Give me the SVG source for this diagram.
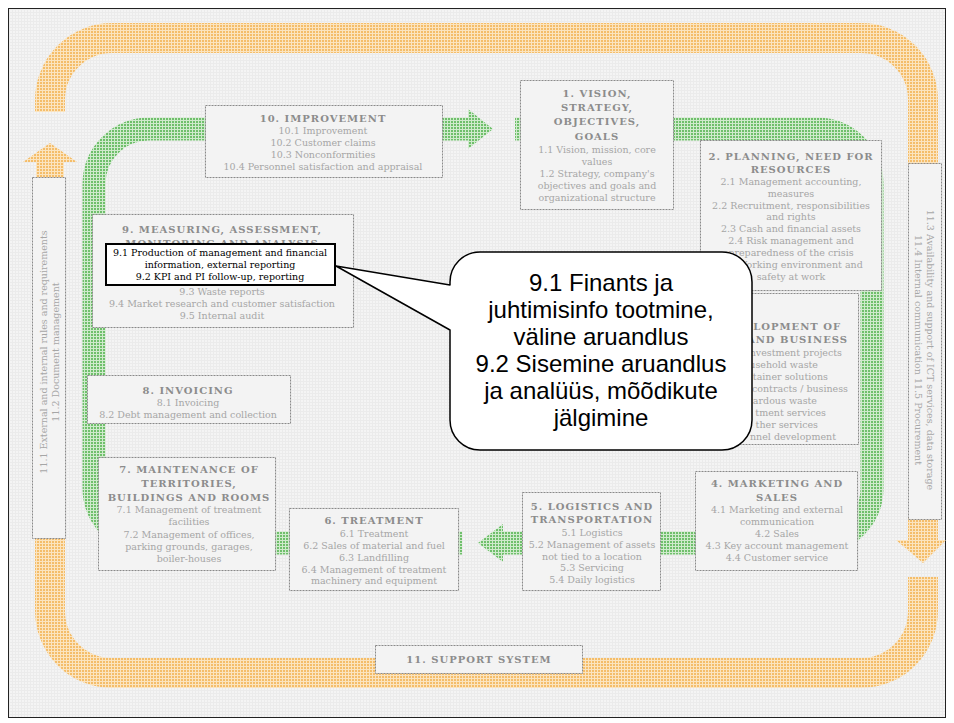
<svg xmlns="http://www.w3.org/2000/svg" width="954" height="723" viewBox="0 0 954 723">
<defs>
<pattern id="bgp" width="3" height="3" patternUnits="userSpaceOnUse"><rect width="3" height="3" fill="#f4f4f4"/><rect width="3" height="1" fill="#ebebeb"/><rect width="1" height="3" fill="#ebebeb"/></pattern>
<pattern id="orp" width="3" height="3" patternUnits="userSpaceOnUse"><rect width="3" height="3" fill="#fbe4bf"/><rect x="1" y="1" width="2" height="2" fill="#f4bd6a"/></pattern>
<pattern id="grp" width="3" height="3" patternUnits="userSpaceOnUse"><rect width="3" height="3" fill="#cfeacc"/><rect x="1" y="1" width="2" height="2" fill="#6fbf6b"/></pattern>
<style>
.box{fill:#f3f3f3;stroke:#8a8a8a;stroke-width:1;stroke-dasharray:2 1}
.t{font-family:"DejaVu Serif","Liberation Serif",serif;font-size:10px;font-weight:bold;fill:#8c8c8c;text-anchor:middle;letter-spacing:1px}
.i{font-family:"DejaVu Serif","Liberation Serif",serif;font-size:9.5px;fill:#a6a6a6;text-anchor:middle}
.h{font-family:"DejaVu Serif","Liberation Serif",serif;font-size:9.5px;fill:#000;text-anchor:middle}
.c{font-family:"Liberation Sans",Arial,sans-serif;font-size:24px;fill:#000;text-anchor:middle}
.ob{fill:none;stroke:url(#orp);stroke-width:30}
.gb{fill:none;stroke:url(#grp);stroke-width:23}
</style>
</defs>
<rect width="954" height="723" fill="#fff"/>
<rect x="8.5" y="8.5" width="937" height="709" fill="url(#bgp)" stroke="#222" stroke-width="1"/>

<g id="connectors">
  <path class="ob" d="M50,112 L50,100 A62,62 0 0 1 112,38 L861,38 A62,62 0 0 1 923,100 L923,165"/>
  <path class="ob" d="M923,577 L923,611 A62,62 0 0 1 861,673 L112,673 A62,62 0 0 1 50,611 L50,536"/>
  <polygon fill="url(#orp)" points="36,180 36,162 23,162 50,143 77,162 64,162 64,180"/>
  <polygon fill="url(#orp)" points="908,518 938,518 938,540 946,540 923,563 896,540 908,540"/>
  <path class="gb" d="M515,129 L817,129 A55,55 0 0 1 872,184 L872,488 A55,55 0 0 1 817,543 L501,543"/>
  <polygon fill="url(#grp)" points="503,524 478,543 503,562"/>
  <path class="gb" d="M462,543 L149,543 A55,55 0 0 1 94,488 L94,184 A55,55 0 0 1 149,129 L469,129"/>
  <polygon fill="url(#grp)" points="468,109 493,129 468,149"/>
</g>

<g id="n10">
  <rect class="box" x="205.5" y="105.5" width="237" height="72"/>
  <text class="t" x="323" y="122">10. IMPROVEMENT</text>
  <text class="i" x="323" y="134">10.1 Improvement</text>
  <text class="i" x="323" y="146">10.2 Customer claims</text>
  <text class="i" x="323" y="158">10.3 Nonconformities</text>
  <text class="i" x="323" y="170">10.4 Personnel satisfaction and appraisal</text>
</g>

<g id="n1">
  <rect class="box" x="520.5" y="80.5" width="153" height="129"/>
  <text class="t" x="597" y="97">1. VISION,</text>
  <text class="t" x="597" y="111">STRATEGY,</text>
  <text class="t" x="597" y="125">OBJECTIVES,</text>
  <text class="t" x="597" y="140">GOALS</text>
  <text class="i" x="597" y="153">1.1 Vision, mission, core</text>
  <text class="i" x="597" y="165">values</text>
  <text class="i" x="597" y="177">1.2 Strategy, company's</text>
  <text class="i" x="597" y="189">objectives and goals and</text>
  <text class="i" x="597" y="201">organizational structure</text>
</g>

<g id="n2">
  <rect class="box" x="700.5" y="140.5" width="181" height="150"/>
  <text class="t" x="791" y="160">2. PLANNING, NEED FOR</text>
  <text class="t" x="791" y="173">RESOURCES</text>
  <text class="i" x="791" y="185">2.1 Management accounting,</text>
  <text class="i" x="791" y="197">measures</text>
  <text class="i" x="791" y="209">2.2 Recruitment, responsibilities</text>
  <text class="i" x="791" y="220">and rights</text>
  <text class="i" x="791" y="232">2.3 Cash and financial assets</text>
  <text class="i" x="791" y="244">2.4 Risk management and</text>
  <text class="i" x="791" y="256">preparedness of the crisis</text>
  <text class="i" x="791" y="268">2.5 Working environment and</text>
  <text class="i" x="791" y="280">safety at work</text>
</g>

<g id="n3">
  <rect class="box" x="700.5" y="293.5" width="158" height="151"/>
  <text class="t" x="841" y="330" style="text-anchor:end">LOPMENT OF</text>
  <text class="t" x="848" y="343" style="text-anchor:end">AND BUSINESS</text>
  <text class="i" x="842" y="356" style="text-anchor:end">nvestment projects</text>
  <text class="i" x="818" y="368" style="text-anchor:end">usehold waste</text>
  <text class="i" x="828" y="380" style="text-anchor:end">tainer solutions</text>
  <text class="i" x="848" y="392" style="text-anchor:end">contracts / business</text>
  <text class="i" x="817" y="404" style="text-anchor:end">ardous waste</text>
  <text class="i" x="826" y="416" style="text-anchor:end">tment services</text>
  <text class="i" x="818" y="428" style="text-anchor:end">ther services</text>
  <text class="i" x="836" y="440" style="text-anchor:end">nnel development</text>
</g>

<g id="n9">
  <rect class="box" x="92.5" y="214.5" width="261" height="113"/>
  <text class="t" x="222" y="233">9. MEASURING, ASSESSMENT,</text>
  <text class="t" x="222" y="247">MONITORING AND ANALYSIS</text>
  <text class="i" x="222" y="295">9.3 Waste reports</text>
  <text class="i" x="222" y="307">9.4 Market research and customer satisfaction</text>
  <text class="i" x="222" y="319">9.5 Internal audit</text>
</g>

<g id="n9h">
  <rect x="106" y="244" width="229" height="41" fill="#fff" stroke="#000" stroke-width="2"/>
  <text class="h" x="220" y="256">9.1 Production of management and financial</text>
  <text class="h" x="220" y="268">information, external reporting</text>
  <text class="h" x="220" y="280">9.2 KPI and PI follow-up, reporting</text>
</g>

<g id="n8">
  <rect class="box" x="87.5" y="375.5" width="203" height="48"/>
  <text class="t" x="188" y="394">8. INVOICING</text>
  <text class="i" x="188" y="406">8.1 Invoicing</text>
  <text class="i" x="188" y="418">8.2 Debt management and collection</text>
</g>

<g id="n7">
  <rect class="box" x="98.5" y="457.5" width="177" height="113"/>
  <text class="t" x="189" y="473">7. MAINTENANCE OF</text>
  <text class="t" x="189" y="487">TERRITORIES,</text>
  <text class="t" x="189" y="501">BUILDINGS AND ROOMS</text>
  <text class="i" x="189" y="513">7.1 Management of treatment</text>
  <text class="i" x="189" y="525">facilities</text>
  <text class="i" x="189" y="538">7.2 Management of offices,</text>
  <text class="i" x="189" y="550">parking grounds, garages,</text>
  <text class="i" x="189" y="562">boiler-houses</text>
</g>

<g id="n6">
  <rect class="box" x="289.5" y="508.5" width="169" height="82"/>
  <text class="t" x="374" y="524">6. TREATMENT</text>
  <text class="i" x="374" y="537">6.1 Treatment</text>
  <text class="i" x="374" y="549">6.2 Sales of material and fuel</text>
  <text class="i" x="374" y="561">6.3 Landfilling</text>
  <text class="i" x="374" y="573">6.4 Management of treatment</text>
  <text class="i" x="374" y="584">machinery and equipment</text>
</g>

<g id="n5">
  <rect class="box" x="522.5" y="492.5" width="138" height="98"/>
  <text class="t" x="592" y="510">5. LOGISTICS AND</text>
  <text class="t" x="592" y="523">TRANSPORTATION</text>
  <text class="i" x="592" y="536">5.1 Logistics</text>
  <text class="i" x="592" y="548">5.2 Management of assets</text>
  <text class="i" x="592" y="560">not tied to a location</text>
  <text class="i" x="592" y="571">5.3 Servicing</text>
  <text class="i" x="592" y="583">5.4 Daily logistics</text>
</g>

<g id="n4">
  <rect class="box" x="695.5" y="471.5" width="162" height="99"/>
  <text class="t" x="777" y="487">4. MARKETING AND</text>
  <text class="t" x="777" y="501">SALES</text>
  <text class="i" x="777" y="513">4.1 Marketing and external</text>
  <text class="i" x="777" y="525">communication</text>
  <text class="i" x="777" y="537">4.2 Sales</text>
  <text class="i" x="777" y="549">4.3 Key account management</text>
  <text class="i" x="777" y="561">4.4 Customer service</text>
</g>

<g id="n11">
  <rect class="box" x="375.5" y="645.5" width="207" height="28"/>
  <text class="t" x="479" y="663">11. SUPPORT SYSTEM</text>
</g>

<g id="n11a">
  <rect class="box" x="32.5" y="177.5" width="33" height="361"/>
  <text class="i" transform="translate(47,352) rotate(-90)">11.1 External and internal rules and requirements</text>
  <text class="i" transform="translate(59,352) rotate(-90)">11.2 Document management</text>
</g>

<g id="n11b">
  <rect class="box" x="908.5" y="163.5" width="33" height="356"/>
  <text class="i" transform="translate(927,350) rotate(90)">11.3 Availability and support of ICT services, data storage</text>
  <text class="i" transform="translate(915,350) rotate(90)">11.4 Internal communication 11.5 Procurement</text>
</g>

<g id="callout">
  <path d="M480,252 L722,252 A30,30 0 0 1 752,282 L752,420 A30,30 0 0 1 722,450 L480,450 A30,30 0 0 1 450,420 L450,330 L336,266 L450,285 L450,282 A30,30 0 0 1 480,252 Z" fill="#fff" stroke="#000" stroke-width="1.5" stroke-linejoin="round"/>
  <text class="c" x="601" y="291">9.1 Finants ja</text>
  <text class="c" x="601" y="318">juhtimisinfo tootmine,</text>
  <text class="c" x="601" y="345">väline aruandlus</text>
  <text class="c" x="601" y="372">9.2 Sisemine aruandlus</text>
  <text class="c" x="601" y="399">ja analüüs, mõõdikute</text>
  <text class="c" x="601" y="426">jälgimine</text>
</g>
</svg>
